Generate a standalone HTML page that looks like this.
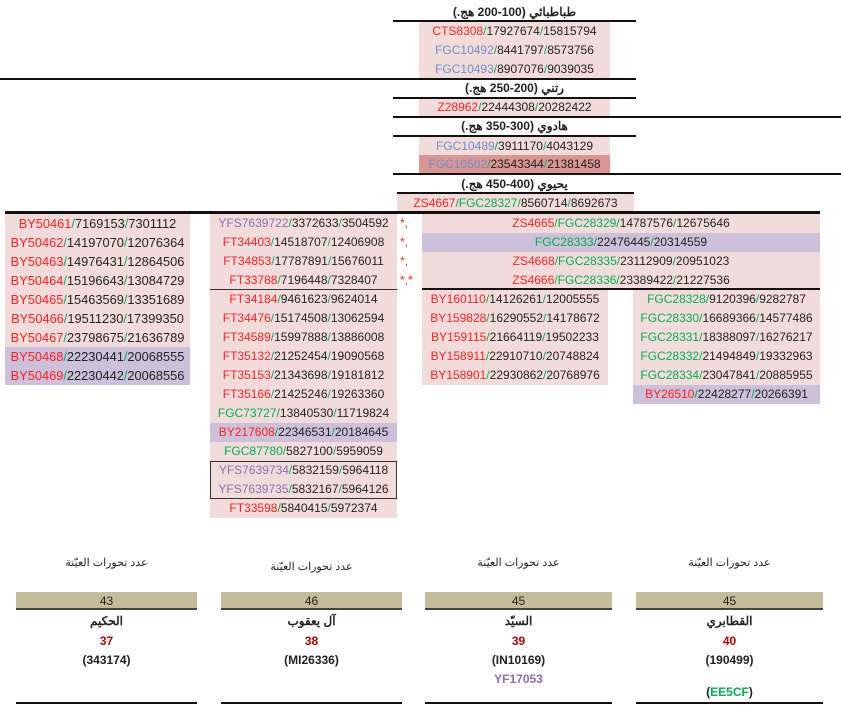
<!DOCTYPE html>
<html><head><meta charset="utf-8"><style>
body{margin:0;width:841px;height:709px;background:#fff;position:relative;overflow:hidden;font-family:"Liberation Sans","Noto Sans CJK SC",sans-serif;font-size:12px;color:#222}
div{position:absolute;box-sizing:border-box}
.r{height:19px;line-height:19px;text-align:center;white-space:nowrap;background:#f2dcdb}
.p{background:#ccc0da}
.d{background:#da9694}
.R{color:#ff2020}.G{color:#00b050}.B{color:#6f8fca}.P{color:#8a70b0}
.l{height:2px;background:#111}
.t{text-align:center;font-weight:bold;font-size:12px;height:16px;line-height:16px}
.h{text-align:center;font-size:11px}
.bar{background:#c4bd97;height:18px;line-height:18px;text-align:center;border-bottom:2px solid #444}
.c{text-align:center;font-weight:bold}
.w{font-size:12.8px}
</style></head><body>
<div class="t" style="left:393px;top:4px;width:243px" dir="rtl">طباطبائي (100-200 هج.)</div>
<div class="l" style="left:393px;top:20px;width:243px"></div>
<div class="r" style="left:419px;top:22px;width:191px"><span class="R">CTS8308</span><span class="G">/</span>17927674<span class="G">/</span>15815794</div>
<div class="r" style="left:419px;top:41px;width:191px"><span class="B">FGC10492</span><span class="G">/</span>8441797<span class="G">/</span>8573756</div>
<div class="r" style="left:419px;top:60px;width:191px;height:18px"><span class="B">FGC10493</span><span class="G">/</span>8907076<span class="G">/</span>9039035</div>
<div class="l" style="left:0;top:78px;width:636px"></div>
<div class="t" style="left:393px;top:80px;width:243px" dir="rtl">رتني (200-250 هج.)</div>
<div class="l" style="left:393px;top:97px;width:243px"></div>
<div class="r" style="left:419px;top:99px;width:191px;height:17px;line-height:17px"><span class="R">Z28962</span><span class="G">/</span>22444308<span class="G">/</span>20282422</div>
<div class="l" style="left:393px;top:116px;width:448px"></div>
<div class="t" style="left:393px;top:118px;width:243px" dir="rtl">هادوي (300-350 هج.)</div>
<div class="l" style="left:393px;top:135px;width:243px"></div>
<div class="r" style="left:419px;top:137px;width:191px;height:18px;line-height:18px"><span class="B">FGC10489</span><span class="G">/</span>3911170<span class="G">/</span>4043129</div>
<div class="r d" style="left:419px;top:155px;width:191px;height:19px"><span class="B">FGC10502</span><span class="G">/</span>23543344<span class="G">/</span>21381458</div>
<div class="l" style="left:393px;top:173px;width:448px"></div>
<div class="t" style="left:393px;top:176px;width:243px" dir="rtl">يحيوي (400-450 هج.)</div>
<div class="l" style="left:397px;top:192px;width:237px"></div>
<div class="r" style="left:397px;top:194px;width:237px;height:18px;line-height:18px"><span class="R">ZS4667</span><span class="G">/FGC28327/</span>8560714<span class="G">/</span>8692673</div>
<div class="l" style="left:5px;top:211px;width:815px;height:3px"></div>

<div class="r w" style="left:5px;top:214px;width:185px"><span class="R">BY50461</span><span class="G">/</span>7169153<span class="G">/</span>7301112</div>
<div class="r w" style="left:5px;top:233px;width:185px"><span class="R">BY50462</span><span class="G">/</span>14197070<span class="G">/</span>12076364</div>
<div class="r w" style="left:5px;top:252px;width:185px"><span class="R">BY50463</span><span class="G">/</span>14976431<span class="G">/</span>12864506</div>
<div class="r w" style="left:5px;top:271px;width:185px"><span class="R">BY50464</span><span class="G">/</span>15196643<span class="G">/</span>13084729</div>
<div class="r w" style="left:5px;top:290px;width:185px"><span class="R">BY50465</span><span class="G">/</span>15463569<span class="G">/</span>13351689</div>
<div class="r w" style="left:5px;top:309px;width:185px"><span class="R">BY50466</span><span class="G">/</span>19511230<span class="G">/</span>17399350</div>
<div class="r w" style="left:5px;top:328px;width:185px"><span class="R">BY50467</span><span class="G">/</span>23798675<span class="G">/</span>21636789</div>
<div class="r p w" style="left:5px;top:347px;width:185px"><span class="R">BY50468</span><span class="G">/</span>22230441<span class="G">/</span>20068555</div>
<div class="r p w" style="left:5px;top:366px;width:185px"><span class="R">BY50469</span><span class="G">/</span>22230442<span class="G">/</span>20068556</div>

<div class="r" style="left:210px;top:214px;width:187px"><span class="P">YFS7639722</span><span class="G">/</span>3372633<span class="G">/</span>3504592</div>
<div class="r" style="left:210px;top:233px;width:187px"><span class="R">FT34403</span><span class="G">/</span>14518707<span class="G">/</span>12406908</div>
<div class="r" style="left:210px;top:252px;width:187px"><span class="R">FT34853</span><span class="G">/</span>17787891<span class="G">/</span>15676011</div>
<div class="r" style="left:210px;top:271px;width:187px"><span class="R">FT33788</span><span class="G">/</span>7196448<span class="G">/</span>7328407</div>
<div style="left:210px;top:289px;width:187px;height:1px;background:#333"></div>
<div class="r" style="left:210px;top:290px;width:187px"><span class="R">FT34184</span><span class="G">/</span>9461623<span class="G">/</span>9624014</div>
<div class="r" style="left:210px;top:309px;width:187px"><span class="R">FT34476</span><span class="G">/</span>15174508<span class="G">/</span>13062594</div>
<div class="r" style="left:210px;top:328px;width:187px"><span class="R">FT34589</span><span class="G">/</span>15997888<span class="G">/</span>13886008</div>
<div class="r" style="left:210px;top:347px;width:187px"><span class="R">FT35132</span><span class="G">/</span>21252454<span class="G">/</span>19090568</div>
<div class="r" style="left:210px;top:366px;width:187px"><span class="R">FT35153</span><span class="G">/</span>21343698<span class="G">/</span>19181812</div>
<div class="r" style="left:210px;top:385px;width:187px"><span class="R">FT35166</span><span class="G">/</span>21425246<span class="G">/</span>19263360</div>
<div class="r" style="left:210px;top:404px;width:187px"><span class="G">FGC73727/</span>13840530<span class="G">/</span>11719824</div>
<div class="r p" style="left:210px;top:423px;width:187px"><span class="R">BY217608</span><span class="G">/</span>22346531<span class="G">/</span>20184645</div>
<div class="r" style="left:210px;top:442px;width:187px"><span class="G">FGC87780/</span>5827100<span class="G">/</span>5959059</div>
<div class="r" style="left:210px;top:461px;width:187px;height:38px;border:1px solid #333"></div>
<div class="r" style="left:210px;top:461px;width:187px;background:none"><span class="P">YFS7639734</span><span class="G">/</span>5832159<span class="G">/</span>5964118</div>
<div class="r" style="left:210px;top:480px;width:187px;background:none"><span class="P">YFS7639735</span><span class="G">/</span>5832167<span class="G">/</span>5964126</div>
<div class="r" style="left:210px;top:499px;width:187px"><span class="R">FT33598</span><span class="G">/</span>5840415<span class="G">/</span>5972374</div>
<div class="R" style="left:400px;top:214px;line-height:19px">*,</div>
<div class="R" style="left:400px;top:233px;line-height:19px">*,</div>
<div class="R" style="left:400px;top:252px;line-height:19px">*,</div>
<div class="R" style="left:400px;top:271px;line-height:19px">*,*</div>

<div class="r" style="left:422px;top:214px;width:398px"><span class="R">ZS4665</span><span class="G">/FGC28329/</span>14787576<span class="G">/</span>12675646</div>
<div class="r p" style="left:422px;top:233px;width:398px"><span class="G">FGC28333/</span>22476445<span class="G">/</span>20314559</div>
<div class="r" style="left:422px;top:252px;width:398px"><span class="R">ZS4668</span><span class="G">/FGC28335/</span>23112909<span class="G">/</span>20951023</div>
<div class="r" style="left:422px;top:271px;width:398px"><span class="R">ZS4666</span><span class="G">/FGC28336/</span>23389422<span class="G">/</span>21227536</div>
<div class="l" style="left:422px;top:288px;width:398px"></div>

<div class="r" style="left:422px;top:290px;width:186px"><span class="R">BY160110</span><span class="G">/</span>14126261<span class="G">/</span>12005555</div>
<div class="r" style="left:422px;top:309px;width:186px"><span class="R">BY159828</span><span class="G">/</span>16290552<span class="G">/</span>14178672</div>
<div class="r" style="left:422px;top:328px;width:186px"><span class="R">BY159115</span><span class="G">/</span>21664119<span class="G">/</span>19502233</div>
<div class="r" style="left:422px;top:347px;width:186px"><span class="R">BY158911</span><span class="G">/</span>22910710<span class="G">/</span>20748824</div>
<div class="r" style="left:422px;top:366px;width:186px"><span class="R">BY158901</span><span class="G">/</span>22930862<span class="G">/</span>20768976</div>

<div class="r" style="left:633px;top:290px;width:187px"><span class="G">FGC28328/</span>9120396<span class="G">/</span>9282787</div>
<div class="r" style="left:633px;top:309px;width:187px"><span class="G">FGC28330/</span>16689366<span class="G">/</span>14577486</div>
<div class="r" style="left:633px;top:328px;width:187px"><span class="G">FGC28331/</span>18388097<span class="G">/</span>16276217</div>
<div class="r" style="left:633px;top:347px;width:187px"><span class="G">FGC28332/</span>21494849<span class="G">/</span>19332963</div>
<div class="r" style="left:633px;top:366px;width:187px"><span class="G">FGC28334/</span>23047841<span class="G">/</span>20885955</div>
<div class="r p" style="left:633px;top:385px;width:187px"><span class="R">BY26510</span><span class="G">/</span>22428277<span class="G">/</span>20266391</div>

<div class="h" style="left:16px;top:556px;width:181px" dir="rtl">عدد تحورات العيّنة</div>
<div class="h" style="left:221px;top:560px;width:181px" dir="rtl">عدد تحورات العيّنة</div>
<div class="h" style="left:425px;top:556px;width:187px" dir="rtl">عدد تحورات العيّنة</div>
<div class="h" style="left:636px;top:556px;width:187px" dir="rtl">عدد تحورات العيّنة</div>

<div class="bar" style="left:16px;top:592px;width:181px">43</div>
<div class="bar" style="left:221px;top:592px;width:181px">46</div>
<div class="bar" style="left:425px;top:592px;width:187px">45</div>
<div class="bar" style="left:636px;top:592px;width:187px">45</div>

<div class="c" style="left:16px;top:614px;width:181px">الحكيم</div>
<div class="c" style="left:221px;top:614px;width:181px">آل يعقوب</div>
<div class="c" style="left:425px;top:614px;width:187px">السيّد</div>
<div class="c" style="left:636px;top:614px;width:187px">القطابري</div>

<div class="c" style="left:16px;top:634px;width:181px;color:#c00000">37</div>
<div class="c" style="left:221px;top:634px;width:181px;color:#c00000">38</div>
<div class="c" style="left:425px;top:634px;width:187px;color:#c00000">39</div>
<div class="c" style="left:636px;top:634px;width:187px;color:#c00000">40</div>

<div class="c" style="left:16px;top:653px;width:181px">(343174)</div>
<div class="c" style="left:221px;top:653px;width:181px">(MI26336)</div>
<div class="c" style="left:425px;top:653px;width:187px">(IN10169)</div>
<div class="c" style="left:636px;top:653px;width:187px">(190499)</div>
<div class="c" style="left:425px;top:672px;width:187px;color:#8a70b0">YF17053</div>
<div class="c" style="left:636px;top:685px;width:187px">(<span class="G">EE5CF</span>)</div>

<div class="l" style="left:16px;top:702px;width:181px"></div>
<div class="l" style="left:221px;top:702px;width:181px"></div>
<div class="l" style="left:425px;top:702px;width:187px"></div>
<div class="l" style="left:636px;top:702px;width:187px"></div>
</body></html>
